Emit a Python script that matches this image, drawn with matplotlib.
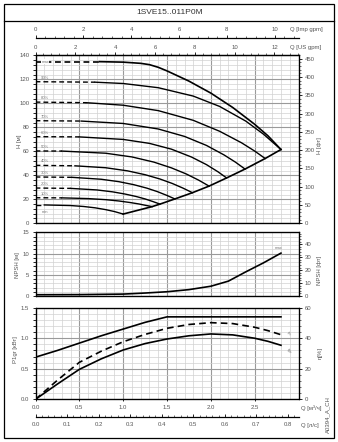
import matplotlib.pyplot as plt
from matplotlib.patches import Rectangle
from matplotlib.lines import Line2D
from matplotlib.ticker import MultipleLocator

plt.rcParams['font.family'] = ['Liberation Sans', 'DejaVu Sans']

# --- data (Q in m3/h) ---
q_max = [0, 0.73, 1.0, 1.2, 1.3, 1.4, 1.5, 1.75, 2.0, 2.25, 2.5, 2.65, 2.8]
h_max = [134.7, 134.7, 134.3, 133.3, 132.2, 130.0, 127.0, 118.5, 108.5, 96.5, 82.5, 73.0, 61.5]
q_90 = [0, 0.68, 1.0, 1.4, 1.8, 2.1, 2.4, 2.6, 2.8]
h_90 = [118, 117.6, 116.5, 113.0, 106.0, 97.4, 85.1, 74.3, 61.5]
q_80 = [0, 0.58, 1.0, 1.4, 1.8, 2.1, 2.35, 2.5, 2.62]
h_80 = [101, 100.5, 98.4, 93.9, 85.8, 76.7, 67.1, 60.2, 54.0]
q_70 = [0, 0.52, 1.0, 1.4, 1.7, 1.95, 2.15, 2.28, 2.39]
h_70 = [85.5, 85.2, 83.2, 78.6, 72.4, 64.9, 57.0, 51.0, 45.2]
q_60 = [0, 0.5, 1.0, 1.3, 1.55, 1.78, 1.95, 2.08, 2.18]
h_60 = [72.2, 72.0, 69.9, 66.6, 61.8, 55.2, 48.9, 43.0, 37.8]
q_50 = [0, 0.3, 0.8, 1.1, 1.35, 1.55, 1.72, 1.86, 1.98]
h_50 = [60.3, 60.2, 58.4, 55.3, 51.0, 46.2, 41.1, 36.0, 31.0]
q_40 = [0, 0.45, 0.8, 1.05, 1.25, 1.42, 1.56, 1.68, 1.79]
h_40 = [48.3, 47.9, 46.3, 43.7, 40.5, 36.9, 33.2, 29.4, 25.5]
q_30 = [0, 0.42, 0.75, 0.95, 1.12, 1.27, 1.39, 1.50, 1.59]
h_30 = [38.6, 38.3, 36.7, 34.7, 32.2, 29.3, 26.4, 23.2, 20.3]
q_20 = [0, 0.4, 0.7, 0.88, 1.02, 1.15, 1.25, 1.34, 1.42]
h_20 = [29.4, 29.1, 27.8, 26.2, 24.4, 22.3, 20.3, 18.1, 16.0]
q_10 = [0, 0.3, 0.6, 0.8, 0.95, 1.08, 1.18, 1.26, 1.33]
h_10 = [21.3, 21.2, 20.6, 19.7, 18.6, 17.3, 16.1, 14.9, 13.9]
q_min = [0, 0.1, 0.4, 0.55, 0.68, 0.8, 0.9, 1.0]
h_min = [15.3, 15.3, 14.8, 14.0, 12.9, 11.4, 9.8, 7.7]
q_lim = [1.0, 1.33, 1.42, 1.59, 1.79, 1.98, 2.18, 2.39, 2.62, 2.8]
h_lim = [7.7, 13.9, 16.0, 20.3, 25.5, 31.0, 37.8, 45.2, 54.0, 61.5]
speed_labels = ['max', '90%', '80%', '70%', '60%', '50%', '40%', '30%', '20%', '10%']

q_npsh = [0, 0.5, 1.0, 1.25, 1.5, 1.75, 2.0, 2.2, 2.4, 2.6, 2.8]
npsh = [0.3, 0.33, 0.45, 0.7, 1.0, 1.5, 2.3, 3.5, 5.7, 7.8, 10.1]

q_p1 = [0, 0.25, 0.5, 0.75, 1.0, 1.25, 1.5, 2.8]
p1 = [0.69, 0.80, 0.92, 1.04, 1.15, 1.26, 1.35, 1.35]
q_eta = [0, 0.25, 0.5, 0.75, 1.0, 1.25, 1.5, 1.75, 2.0, 2.25, 2.5, 2.65, 2.8]
eta_p = [0, 12.5, 24.2, 31.5, 37.7, 42.5, 46.5, 49.0, 50.2, 49.6, 47.2, 45.0, 42.3]
eta_gr = [0, 10.0, 19.6, 26.5, 32.3, 36.5, 39.5, 41.6, 42.8, 42.2, 40.0, 38.0, 35.4]

W, H = 338, 442
fig = plt.figure(figsize=(W / 100, H / 100), dpi=100)
fs = 4.3
tc = '#555555'


def box(l, t, r, b):
    return [l / W, 1 - b / H, (r - l) / W, (b - t) / H]


def style(ax, ymax, ymaj, ymin):
    ax.set_xlim(0, 3.0)
    ax.set_ylim(0, ymax)
    ax.xaxis.set_major_locator(MultipleLocator(0.5))
    ax.xaxis.set_minor_locator(MultipleLocator(0.1))
    ax.yaxis.set_major_locator(MultipleLocator(ymaj))
    ax.yaxis.set_minor_locator(MultipleLocator(ymin))
    ax.grid(which='major', color='#9a9a9a', lw=0.8)
    ax.grid(which='minor', color='#d2d2d2', lw=0.5)
    ax.set_axisbelow(True)
    ax.tick_params(axis='y', which='major', length=2.5, width=0.6, pad=2,
                   labelsize=fs, labelcolor=tc)
    ax.tick_params(axis='y', which='minor', left=False)
    ax.tick_params(axis='x', which='both', bottom=False, labelbottom=False)
    for s in ax.spines.values():
        s.set_linewidth(0.9)


def right_axis(ax, ymax, ymaj, ymin):
    r = ax.twinx()
    r.set_ylim(0, ymax)
    r.yaxis.set_major_locator(MultipleLocator(ymaj))
    r.yaxis.set_minor_locator(MultipleLocator(ymin))
    r.tick_params(axis='y', which='major', length=2.5, width=0.6, pad=2,
                  labelsize=fs, labelcolor=tc)
    r.tick_params(axis='y', which='minor', length=1.2, width=0.4)
    return r


# --- H chart ---
ax_h = fig.add_axes(box(35.5, 55.3, 298.5, 223.3))
style(ax_h, 140, 20, 4)
curves = [(q_max, h_max), (q_90, h_90), (q_80, h_80), (q_70, h_70), (q_60, h_60),
          (q_50, h_50), (q_40, h_40), (q_30, h_30), (q_20, h_20), (q_10, h_10)]
for i, (q, h) in enumerate(curves):
    lw = 1.2 if i == 0 else 1.0
    ax_h.plot(q[:2], h[:2], color='black', lw=lw, ls=(0, (3.5, 2.2)))
    ax_h.plot(q[1:], h[1:], color='black', lw=lw)
    ax_h.text(0.11, h[0] + (0 if i == 0 else 3.2), speed_labels[i], fontsize=3,
              color='#777777', ha='center', va='center',
              bbox=dict(fc='white', ec='none', pad=0.3) if i == 0 else None)
ax_h.plot(q_min[:2], h_min[:2], color='black', lw=1.0, ls=(0, (3.5, 2.2)))
ax_h.plot(q_min[1:], h_min[1:], color='black', lw=1.0)
ax_h.text(0.11, 9.5, 'min', fontsize=3, color='#777777', ha='center', va='center')
ax_h.plot(q_lim, h_lim, color='black', lw=1.2)
r_h = right_axis(ax_h, 140 * 3.2808, 50, 10)

us = ax_h.secondary_xaxis('top', functions=(lambda q: q * 4.403, lambda g: g / 4.403))
us.set_xticks(range(0, 13, 2))
us.xaxis.set_minor_locator(MultipleLocator(0.4))
us.tick_params(which='major', length=2.5, width=0.6, pad=1.5, labelsize=fs, labelcolor=tc)
us.tick_params(which='minor', length=1.3, width=0.4)

imp = ax_h.secondary_xaxis(1.105, functions=(lambda q: q * 3.666, lambda g: g / 3.666))
imp.set_xticks(range(0, 11, 2))
imp.xaxis.set_minor_locator(MultipleLocator(0.4))
imp.tick_params(which='major', length=2.5, width=0.6, pad=1.5, labelsize=fs, labelcolor=tc)
imp.tick_params(which='minor', length=1.3, width=0.4)
imp.spines['top'].set_linewidth(0.9)

# --- NPSH chart ---
ax_n = fig.add_axes(box(35.5, 232.3, 298.5, 296))
style(ax_n, 15, 5, 1)
ax_n.plot(q_npsh, npsh, color='black', lw=1.2)
ax_n.text(2.77, 11.3, 'max', fontsize=3, color='#777777', ha='center', va='center')
right_axis(ax_n, 15 * 3.2808, 10, 2)

# --- P1 / efficiency chart ---
ax_p = fig.add_axes(box(35.5, 307.7, 298.5, 399.3))
style(ax_p, 1.5, 0.5, 0.1)
ax_p.yaxis.set_major_formatter(lambda v, pos: f'{v:.1f}')
ax_p.plot(q_p1, p1, color='black', lw=1.2)
ax_p.set_xticks([0, 0.5, 1.0, 1.5, 2.0, 2.5])
ax_p.xaxis.set_major_formatter(lambda v, pos: f'{v:.1f}')
ax_p.tick_params(axis='x', which='major', bottom=True, labelbottom=True, length=1.5,
                 width=0.6, pad=2.5, labelsize=fs, labelcolor=tc)
r_p = right_axis(ax_p, 60, 20, 4)
r_p.plot(q_eta, eta_p, color='black', lw=1.2, ls=(0, (4, 2.5)))
r_p.plot(q_eta, eta_gr, color='black', lw=1.2)
r_p.text(2.89, 43.5, 'ηp', fontsize=3, color='#777777', rotation=-65, ha='center', va='center')
r_p.text(2.89, 31.5, 'ηgr', fontsize=3, color='#777777', rotation=-65, ha='center', va='center')

ls_ax = ax_p.secondary_xaxis(-0.197, functions=(lambda q: q / 3.6, lambda l: l * 3.6))
ls_ax.set_xticks([0, 0.1, 0.2, 0.3, 0.4, 0.5, 0.6, 0.7, 0.8])
ls_ax.xaxis.set_major_formatter(lambda v, pos: f'{v:.1f}')
ls_ax.xaxis.set_minor_locator(MultipleLocator(0.02))
ls_ax.tick_params(which='major', direction='in', length=2.5, width=0.6, pad=3,
                  labelsize=fs, labelcolor=tc)
ls_ax.tick_params(which='minor', direction='in', length=1.2, width=0.4)
ls_ax.spines['bottom'].set_linewidth(0.9)

# --- axis unit labels and frame ---
fig.text(290 / W, 1 - 29 / H, 'Q [Imp gpm]', fontsize=fs, color=tc, va='center')
fig.text(290 / W, 1 - 47 / H, 'Q [US gpm]', fontsize=fs, color=tc, va='center')
fig.text(301 / W, 1 - 408 / H, 'Q [м³/ч]', fontsize=fs, color=tc, va='center')
fig.text(301 / W, 1 - 426 / H, 'Q [л/с]', fontsize=fs, color=tc, va='center')
fig.text(20 / W, 1 - 141 / H, 'H [м]', fontsize=fs, color=tc, rotation=90, ha='center', va='center')
fig.text(17 / W, 1 - 265 / H, 'NPSH [м]', fontsize=fs, color=tc, rotation=90, ha='center', va='center')
fig.text(15 / W, 1 - 350 / H, 'P1gr [кВт]', fontsize=fs, color=tc, rotation=90, ha='center', va='center')
fig.text(320 / W, 1 - 146 / H, 'H [фт]', fontsize=fs, color=tc, rotation=90, ha='center', va='center')
fig.text(319 / W, 1 - 270 / H, 'NPSH [фт]', fontsize=fs, color=tc, rotation=90, ha='center', va='center')
fig.text(320 / W, 1 - 353 / H, 'η[%]', fontsize=fs, color=tc, rotation=90, ha='center', va='center')
fig.text(328 / W, 1 - 415 / H, 'A0394_A_CH', fontsize=fs, color=tc, rotation=90, ha='center', va='center')
fig.text(170 / W, 1 - 13 / H, '1SVE15..011P0M', fontsize=6, color='#333333', ha='center', va='center')

fig.add_artist(Rectangle((4 / W, 1 - 438 / H), 330 / W, 434 / H, transform=fig.transFigure,
                         fill=False, lw=0.9, ec='black'))
fig.add_artist(Line2D([4 / W, 334 / W], [1 - 21 / H, 1 - 21 / H], transform=fig.transFigure,
                      lw=0.9, color='black'))

fig.savefig('out.png', dpi=100)
